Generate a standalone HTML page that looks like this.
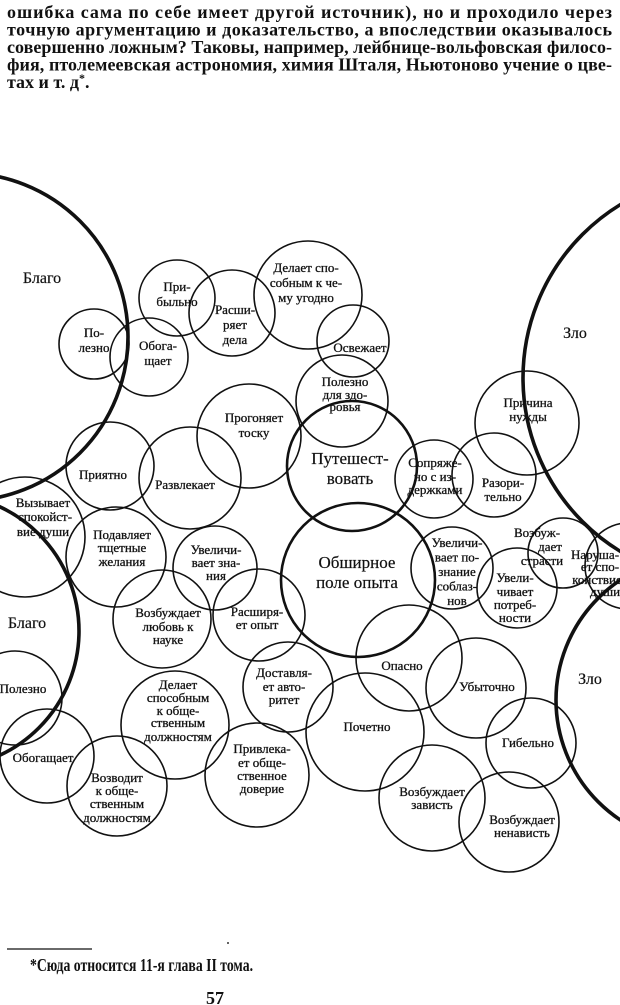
<!DOCTYPE html>
<html>
<head>
<meta charset="utf-8">
<style>
html,body{margin:0;padding:0;background:#fff;}
svg{display:block;}
.t{font-family:"Liberation Serif","DejaVu Serif",serif;font-weight:bold;font-size:18px;fill:#111;}
.l{font-family:"Liberation Serif","DejaVu Serif",serif;font-size:13px;fill:#111;stroke:#111;stroke-width:0.3;text-anchor:middle;}
.b{font-family:"Liberation Serif","DejaVu Serif",serif;font-size:17px;fill:#111;stroke:#111;stroke-width:0.2;text-anchor:middle;}
.g{font-family:"Liberation Serif","DejaVu Serif",serif;font-size:16px;fill:#111;stroke:#111;stroke-width:0.2;text-anchor:middle;}
.c{fill:none;stroke:#111;stroke-width:1.6;}
.m{fill:none;stroke:#111;stroke-width:2.6;}
.k{fill:none;stroke:#111;stroke-width:3.6;}
</style>
</head>
<body>
<svg width="620" height="1005" viewBox="0 0 620 1005" xmlns="http://www.w3.org/2000/svg">
<rect width="620" height="1005" fill="#fff"/>
<!-- paragraph -->
<text class="t" x="7" y="18" textLength="605" lengthAdjust="spacing">ошибка сама по себе имеет другой источник), но и проходило через</text>
<text class="t" x="7" y="35.5" textLength="605" lengthAdjust="spacing">точную аргументацию и доказательство, а впоследствии оказывалось</text>
<text class="t" x="7" y="53" textLength="605" lengthAdjust="spacing">совершенно ложным? Таковы, например, лейбнице-вольфовская филосо-</text>
<text class="t" x="7" y="70.5" textLength="605" lengthAdjust="spacing">фия, птолемеевская астрономия, химия Шталя, Ньютоново учение о цве-</text>
<text class="t" x="7" y="88">тах и т. д<tspan font-size="12" dy="-6">*</tspan><tspan dy="6">.</tspan></text>

<!-- big circles -->
<circle class="k" cx="-36" cy="337" r="164"/>
<circle class="k" cx="-58" cy="631" r="137"/>
<circle class="k" cx="726" cy="378" r="203"/>
<circle class="k" cx="700" cy="700" r="144"/>
<!-- medium -->
<circle class="m" cx="352" cy="466" r="65"/>
<circle class="m" cx="358" cy="580" r="77"/>
<!-- regular -->
<circle class="c" cx="177" cy="298" r="38"/>
<circle class="c" cx="232" cy="313" r="43"/>
<circle class="c" cx="94" cy="344" r="35"/>
<circle class="c" cx="149" cy="357" r="39"/>
<circle class="c" cx="308" cy="295" r="54"/>
<circle class="c" cx="353" cy="341" r="36"/>
<circle class="c" cx="342" cy="401" r="46"/>
<circle class="c" cx="527" cy="423" r="52"/>
<circle class="c" cx="249" cy="436" r="52"/>
<circle class="c" cx="110" cy="466" r="44"/>
<circle class="c" cx="190" cy="478" r="51"/>
<circle class="c" cx="25" cy="537" r="60"/>
<circle class="c" cx="116" cy="557" r="50"/>
<circle class="c" cx="215" cy="568" r="42"/>
<circle class="c" cx="434" cy="479" r="39"/>
<circle class="c" cx="494" cy="475" r="42"/>
<circle class="c" cx="452" cy="568" r="41"/>
<circle class="c" cx="517" cy="588" r="40"/>
<circle class="c" cx="563" cy="553" r="35"/>
<circle class="c" cx="628" cy="566" r="43"/>
<circle class="c" cx="162" cy="619" r="49"/>
<circle class="c" cx="259" cy="615" r="46"/>
<circle class="c" cx="15" cy="698" r="47"/>
<circle class="c" cx="47" cy="756" r="47"/>
<circle class="c" cx="175" cy="725" r="54"/>
<circle class="c" cx="117" cy="786" r="50"/>
<circle class="c" cx="288" cy="687" r="45"/>
<circle class="c" cx="257" cy="775" r="52"/>
<circle class="c" cx="409" cy="658" r="53"/>
<circle class="c" cx="476" cy="688" r="50"/>
<circle class="c" cx="365" cy="732" r="59"/>
<circle class="c" cx="531" cy="743" r="45"/>
<circle class="c" cx="432" cy="798" r="53"/>
<circle class="c" cx="509" cy="822" r="50"/>

<!-- labels -->
<text class="g" x="42" y="283">Благо</text>
<text class="g" x="575" y="338">Зло</text>
<text class="g" x="27" y="628">Благо</text>
<text class="g" x="590" y="684">Зло</text>

<text class="l" x="177" y="291">При-</text>
<text class="l" x="177" y="306">быльно</text>
<text class="l" x="94" y="337">По-</text>
<text class="l" x="94" y="352">лезно</text>
<text class="l" x="158" y="350">Обога-</text>
<text class="l" x="158" y="365">щает</text>
<text class="l" x="235" y="314">Расши-</text>
<text class="l" x="235" y="329">ряет</text>
<text class="l" x="235" y="344">дела</text>
<text class="l" x="306" y="272">Делает спо-</text>
<text class="l" x="306" y="287">собным к че-</text>
<text class="l" x="306" y="302">му угодно</text>
<text class="l" x="360" y="352" font-size="12">Освежает</text>
<text class="l" x="345" y="386" font-size="12.5">Полезно</text>
<text class="l" x="345" y="399" font-size="12.5">для здо-</text>
<text class="l" x="345" y="411" font-size="12.5">ровья</text>
<text class="l" x="528" y="407">Причина</text>
<text class="l" x="528" y="421">нужды</text>
<text class="l" x="254" y="422">Прогоняет</text>
<text class="l" x="254" y="437">тоску</text>
<text class="b" x="350" y="464">Путешест-</text>
<text class="b" x="350" y="484">вовать</text>
<text class="l" x="435" y="467">Сопряже-</text>
<text class="l" x="435" y="481">но с из-</text>
<text class="l" x="435" y="494">держками</text>
<text class="l" x="503" y="487">Разори-</text>
<text class="l" x="503" y="501">тельно</text>
<text class="l" x="103" y="479">Приятно</text>
<text class="l" x="185" y="489">Развлекает</text>
<text class="l" x="43" y="507">Вызывает</text>
<text class="l" x="45" y="521">спокойст-</text>
<text class="l" x="43" y="536">вие души</text>
<text class="l" x="122" y="539">Подавляет</text>
<text class="l" x="122" y="552">тщетные</text>
<text class="l" x="122" y="566">желания</text>
<text class="l" x="216" y="554">Увеличи-</text>
<text class="l" x="216" y="567">вает зна-</text>
<text class="l" x="216" y="580">ния</text>
<text class="b" x="357" y="568">Обширное</text>
<text class="b" x="357" y="588">поле опыта</text>
<text class="l" x="457" y="547">Увеличи-</text>
<text class="l" x="457" y="561.5">вает по-</text>
<text class="l" x="457" y="576">знание</text>
<text class="l" x="457" y="590.5">соблаз-</text>
<text class="l" x="457" y="605">нов</text>
<text class="l" x="537" y="537">Возбуж-</text>
<text class="l" x="550" y="551">дает</text>
<text class="l" x="542" y="565">страсти</text>
<text class="l" x="595" y="559">Наруша-</text>
<text class="l" x="600" y="571">ет спо-</text>
<text class="l" x="597" y="584">койствие</text>
<text class="l" x="605" y="596">души</text>
<text class="l" x="515" y="582">Увели-</text>
<text class="l" x="515" y="596">чивает</text>
<text class="l" x="515" y="609">потреб-</text>
<text class="l" x="515" y="622">ности</text>
<text class="l" x="168" y="617">Возбуждает</text>
<text class="l" x="168" y="631">любовь к</text>
<text class="l" x="168" y="644">науке</text>
<text class="l" x="257" y="616">Расширя-</text>
<text class="l" x="257" y="629">ет опыт</text>
<text class="l" x="23" y="693" font-size="12">Полезно</text>
<text class="l" x="43" y="762" font-size="12.5">Обогащает</text>
<text class="l" x="178" y="689" font-size="12.5">Делает</text>
<text class="l" x="178" y="702" font-size="12.5">способным</text>
<text class="l" x="178" y="715" font-size="12.5">к обще-</text>
<text class="l" x="178" y="727" font-size="12.5">ственным</text>
<text class="l" x="178" y="741" font-size="12.5">должностям</text>
<text class="l" x="117" y="782" font-size="12.5">Возводит</text>
<text class="l" x="117" y="795" font-size="12.5">к обще-</text>
<text class="l" x="117" y="808" font-size="12.5">ственным</text>
<text class="l" x="117" y="822" font-size="12.5">должностям</text>
<text class="l" x="284" y="677">Доставля-</text>
<text class="l" x="284" y="691">ет авто-</text>
<text class="l" x="284" y="704">ритет</text>
<text class="l" x="262" y="753">Привлека-</text>
<text class="l" x="262" y="767">ет обще-</text>
<text class="l" x="262" y="780">ственное</text>
<text class="l" x="262" y="793">доверие</text>
<text class="l" x="402" y="670">Опасно</text>
<text class="l" x="487" y="691">Убыточно</text>
<text class="l" x="367" y="731">Почетно</text>
<text class="l" x="528" y="747">Гибельно</text>
<text class="l" x="432" y="796">Возбуждает</text>
<text class="l" x="432" y="809">зависть</text>
<text class="l" x="522" y="824">Возбуждает</text>
<text class="l" x="522" y="837">ненависть</text>

<!-- footnote -->
<line x1="7" y1="949" x2="92" y2="949" stroke="#111" stroke-width="1.2"/>
<circle cx="228" cy="943" r="1" fill="#333"/>
<text class="t" x="30" y="971" font-size="16" textLength="223" lengthAdjust="spacingAndGlyphs">*Сюда относится 11-я глава II тома.</text>
<text class="t" x="215" y="1004" font-size="17" text-anchor="middle">57</text>
</svg>
</body>
</html>
